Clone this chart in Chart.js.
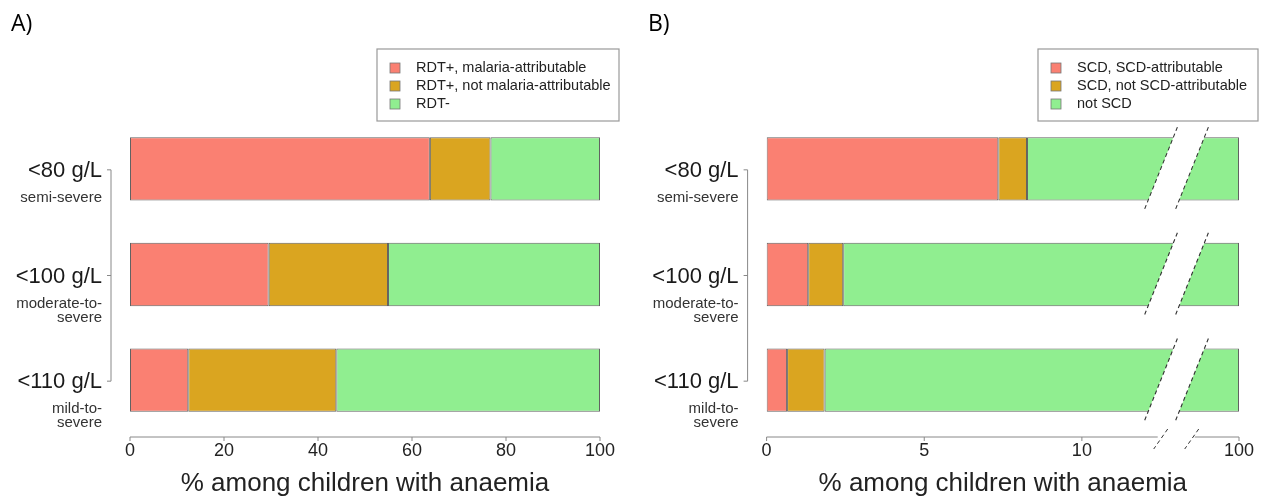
<!DOCTYPE html>
<html>
<head>
<meta charset="utf-8">
<script src="https://cdn.jsdelivr.net/npm/chart.js@4.4.1/dist/chart.umd.min.js"></script>
<style>
  html, body { margin: 0; padding: 0; background: #fff; }
  .panel { position: absolute; top: 0; height: 502px; }
  #wrapA { left: 0; width: 633px; }
  #wrapB { left: 633px; width: 634px; }
</style>
</head>
<body>
<div class="panel" id="wrapA"><canvas id="chartA"></canvas></div>
<div class="panel" id="wrapB"><canvas id="chartB"></canvas></div>
<script>
// categories (top to bottom)
const categories = ['<80 g/L', '<100 g/L', '<110 g/L'];
const subLabels = [['semi-severe'], ['moderate-to-', 'severe'], ['mild-to-', 'severe']];

// panel A - malaria
const malariaLabels = ['RDT+, malaria-attributable', 'RDT+, not malaria-attributable', 'RDT-'];
const malariaAttributable = [63.8, 29.5, 12.4];
const malariaNotAttributable = [12.9, 25.4, 31.5];
const rdtNegative = [23.3, 45.1, 56.1];
const ticksA = [0, 20, 40, 60, 80, 100];

// panel B - sickle cell disease
const scdLabels = ['SCD, SCD-attributable', 'SCD, not SCD-attributable', 'not SCD'];
const scdAttributable = [7.35, 1.32, 0.65];
const scdNotAttributable = [0.91, 1.11, 1.19];
const notScd = [91.74, 97.57, 98.16];
const ticksB = [0, 5, 10, 100];

const colors = ['#FA8072', '#DAA520', '#90EE90'];
const FONT = '"Liberation Sans", Arial, Helvetica, sans-serif';
const axisTitle = '% among children with anaemia';

// linear scale with a gap between breakLo and breakHi
class BrokenScale extends Chart.LinearScale {
    static id = 'brokenLinear';

    _k() {
        const o = this.options;
        return (this.width - o.breakGap) / ((o.breakLo - this.min) + (this.max - o.breakHi));
    }
    buildTicks() {
        return this.options.tickValues.map(v => ({ value: v }));
    }
    getPixelForValue(v) {
        if (v === null || v === undefined || isNaN(v)) return NaN;
        const o = this.options;
        const k = this._k();
        if (v <= o.breakLo) return this.left + (v - this.min) * k;
        if (v >= o.breakHi) return this.right - (this.max - v) * k;
        const a = this.left + (o.breakLo - this.min) * k;
        return a + o.breakGap * (v - o.breakLo) / (o.breakHi - o.breakLo);
    }
    getValueForPixel(px) {
        const o = this.options;
        const k = this._k();
        const a = this.left + (o.breakLo - this.min) * k;
        if (px <= a) return this.min + (px - this.left) / k;
        if (px >= a + o.breakGap) return this.max - (this.right - px) / k;
        return o.breakLo + (px - a) / o.breakGap * (o.breakHi - o.breakLo);
    }
}
Chart.register(BrokenScale);

const decoPlugin = {
    id: 'deco',
    afterDatasetsDraw(chart, args, opts) {
        if (!opts.broken) return;
        const ctx = chart.ctx;
        const xs = chart.scales.x;
        const xa = xs.getPixelForValue(xs.options.breakLo);
        const xb = xs.getPixelForValue(xs.options.breakHi);
        const s = 0.4;
        ctx.save();
        chart.getDatasetMeta(0).data.forEach(bar => {
            const cy = bar.y, h = bar.height / 2;
            const e = h + 1.5;
            ctx.fillStyle = '#fff';
            ctx.beginPath();
            ctx.moveTo(xa + s * e, cy - e);
            ctx.lineTo(xb + s * e, cy - e);
            ctx.lineTo(xb - s * e, cy + e);
            ctx.lineTo(xa - s * e, cy + e);
            ctx.closePath();
            ctx.fill();
            const l = h + 10;
            ctx.strokeStyle = '#333';
            ctx.lineWidth = 1.1;
            ctx.setLineDash([4, 3]);
            [xa, xb].forEach(x0 => {
                ctx.beginPath();
                ctx.moveTo(x0 + s * l, cy - l);
                ctx.lineTo(x0 - s * l, cy + l);
                ctx.stroke();
            });
            ctx.setLineDash([]);
        });
        ctx.restore();
    },
    afterDraw(chart, args, opts) {
        const ctx = chart.ctx;
        const area = chart.chartArea;
        const xs = chart.scales.x;
        const ys = chart.scales.y;
        ctx.save();

        // axis line with ticks
        const axisY = area.bottom + 4;
        ctx.strokeStyle = '#888';
        ctx.lineWidth = 1;
        const segs = opts.broken
            ? [[xs.min, xs.options.breakLo, 0, -3], [xs.options.breakHi, xs.max, 3, 0]]
            : [[xs.min, xs.max, 0, 0]];
        segs.forEach(([a, b, da, db]) => {
            ctx.beginPath();
            ctx.moveTo(xs.getPixelForValue(a) + da, axisY);
            ctx.lineTo(xs.getPixelForValue(b) + db, axisY);
            ctx.stroke();
        });
        xs.ticks.forEach(t => {
            const px = xs.getPixelForValue(t.value);
            ctx.beginPath();
            ctx.moveTo(px, axisY);
            ctx.lineTo(px, axisY + 4);
            ctx.stroke();
        });
        if (opts.broken) {
            ctx.strokeStyle = '#333';
            ctx.setLineDash([4, 3]);
            [xs.options.breakLo, xs.options.breakHi].forEach(v => {
                const px = xs.getPixelForValue(v);
                ctx.beginPath();
                ctx.moveTo(px + 7, axisY - 8);
                ctx.lineTo(px - 7, axisY + 12);
                ctx.stroke();
            });
            ctx.setLineDash([]);
        }

        // bracket next to the category labels
        const bx = area.left - 19;
        const y0 = ys.getPixelForValue(0) + 1;
        const y2 = ys.getPixelForValue(categories.length - 1) + 1;
        ctx.strokeStyle = '#888';
        ctx.beginPath();
        ctx.moveTo(bx, y0);
        ctx.lineTo(bx, y2);
        ctx.stroke();
        categories.forEach((c, i) => {
            const cy = ys.getPixelForValue(i) + 1;
            ctx.beginPath();
            ctx.moveTo(bx - 4, cy);
            ctx.lineTo(bx, cy);
            ctx.stroke();
        });

        // sub labels under the thresholds
        ctx.fillStyle = '#333';
        ctx.font = '15px ' + FONT;
        ctx.textAlign = 'right';
        ctx.textBaseline = 'middle';
        subLabels.forEach((lines, i) => {
            const cy = ys.getPixelForValue(i);
            lines.forEach((t, j) => ctx.fillText(t, area.left - 28, cy + 29 + j * 14));
        });

        // legend box
        const lg = opts.legend;
        ctx.strokeStyle = '#999';
        ctx.lineWidth = 1.2;
        ctx.strokeRect(lg.x, lg.y, lg.w, lg.h);
        ctx.font = '14.5px ' + FONT;
        ctx.textAlign = 'left';
        chart.data.datasets.forEach((ds, i) => {
            const ry = lg.y + 19 + i * 18;
            ctx.fillStyle = ds.backgroundColor;
            ctx.fillRect(lg.x + 13, ry - 5, 10, 10);
            ctx.strokeStyle = '#777';
            ctx.lineWidth = 0.8;
            ctx.strokeRect(lg.x + 13, ry - 5, 10, 10);
            ctx.fillStyle = '#222';
            ctx.fillText(ds.label, lg.x + 39, ry);
        });

        // panel letter
        ctx.font = '23px "Open Sans", sans-serif';
        ctx.fillStyle = '#000';
        ctx.textAlign = 'left';
        ctx.fillText(opts.letter, opts.letterX, 24);
        ctx.restore();
    }
};

function makeChart(canvasId, names, series, xScale, deco, yWidth, rightPad) {
    const ctx = document.getElementById(canvasId)?.getContext('2d');
    if (!ctx) return;
    return new Chart(ctx, {
        type: 'bar',
        data: {
            labels: categories,
            datasets: series.map((values, i) => ({
                label: names[i],
                data: values,
                backgroundColor: colors[i],
                borderColor: 'rgba(70,70,70,0.85)',
                borderWidth: 1,
                borderSkipped: false,
                barPercentage: 0.6,
                categoryPercentage: 1
            }))
        },
        options: {
            indexAxis: 'y',
            responsive: true,
            maintainAspectRatio: false,
            animation: false,
            events: [],
            layout: { padding: { top: 116, right: rightPad, bottom: 0, left: 0 } },
            plugins: {
                legend: { display: false },
                tooltip: { enabled: false },
                deco: deco
            },
            scales: {
                x: xScale,
                y: {
                    stacked: true,
                    grid: { display: false, drawTicks: false },
                    border: { display: false },
                    ticks: {
                        padding: 28,
                        labelOffset: 2,
                        color: '#1a1a1a',
                        font: { size: 22, family: FONT }
                    },
                    afterFit: s => { s.width = yWidth; }
                }
            }
        },
        plugins: [decoPlugin]
    });
}

const xCommon = {
    min: 0,
    max: 100,
    stacked: true,
    grid: { display: false, drawTicks: false },
    border: { display: false },
    ticks: {
        padding: 7,
        autoSkip: false,
        maxRotation: 0,
        color: '#222',
        font: { size: 18, family: FONT },
        callback: v => String(v)
    },
    title: {
        display: true,
        text: axisTitle,
        color: '#222',
        font: { size: 26, family: FONT },
        padding: { top: 4, bottom: 3 }
    },
    afterFit: s => { s.height = 69; }
};

document.addEventListener('DOMContentLoaded', () => {
    makeChart('chartA', malariaLabels,
        [malariaAttributable, malariaNotAttributable, rdtNegative],
        Object.assign({}, xCommon, {
            type: 'linear',
            afterBuildTicks: s => { s.ticks = ticksA.map(v => ({ value: v })); }
        }),
        { broken: false, letter: 'A)', letterX: 11, legend: { x: 377, y: 49, w: 242, h: 72 } },
        130, 33);

    makeChart('chartB', scdLabels,
        [scdAttributable, scdNotAttributable, notScd],
        Object.assign({}, xCommon, {
            type: 'brokenLinear',
            tickValues: ticksB,
            breakLo: 12.5,
            breakHi: 98.5,
            breakGap: 31
        }),
        { broken: true, letter: 'B)', letterX: 15, legend: { x: 405, y: 49, w: 220, h: 72 } },
        133.6, 28);
});
</script>
</body>
</html>
